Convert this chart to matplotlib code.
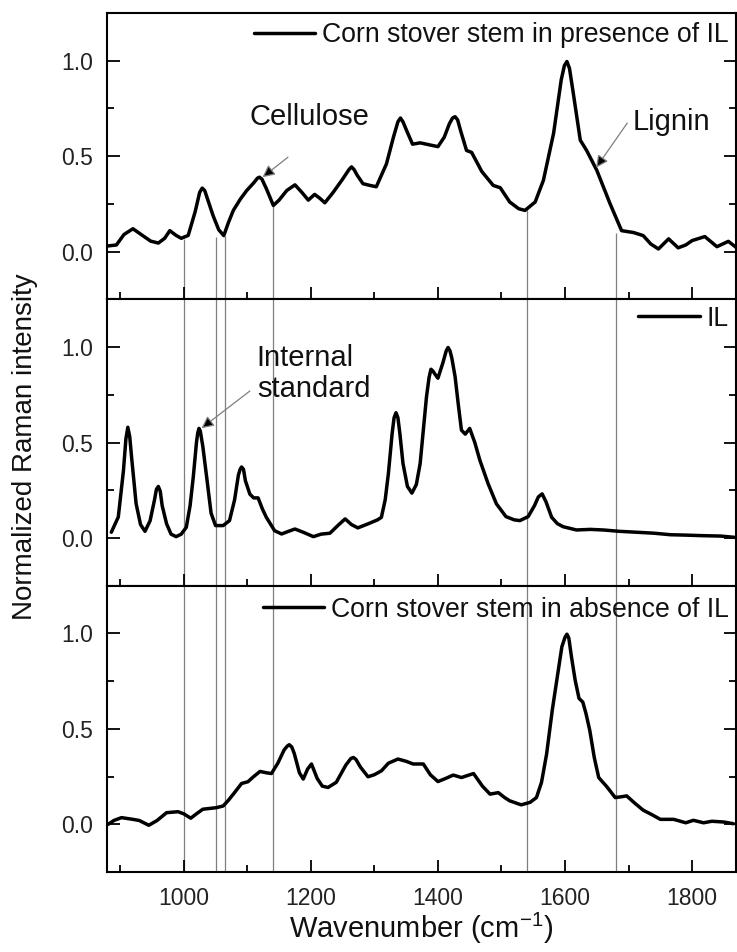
import matplotlib
matplotlib.use("Agg")
import matplotlib.pyplot as plt
from matplotlib.ticker import MultipleLocator, FormatStrFormatter

plt.rcParams['font.family'] = ['Liberation Sans', 'DejaVu Sans']
plt.rcParams['mathtext.fontset'] = 'custom'
plt.rcParams['mathtext.rm'] = 'Liberation Sans'

# ---------------- data ----------------
x_presence = [881, 894, 906, 920, 935, 948, 960, 970, 978, 988, 996, 1007, 1018, 1025, 1029, 1033,
              1038, 1046, 1055, 1063, 1070, 1078, 1089, 1099, 1110, 1116, 1119, 1123, 1130, 1141,
              1150, 1162, 1175, 1186, 1196, 1206, 1214, 1222, 1235, 1250, 1260, 1264, 1268, 1273,
              1282, 1293, 1303, 1319, 1330, 1337, 1341, 1345, 1350, 1360, 1372, 1386, 1400, 1410,
              1418, 1423, 1427, 1431, 1436, 1445, 1453, 1469, 1487, 1498, 1513, 1527, 1537, 1553,
              1566, 1582, 1594, 1599, 1603, 1607, 1613, 1624, 1634, 1650, 1671, 1689, 1708, 1723,
              1735, 1747, 1763, 1778, 1790, 1800, 1820, 1839, 1857, 1869]
y_presence = [0.03, 0.035, 0.09, 0.12, 0.085, 0.055, 0.045, 0.07, 0.11, 0.085, 0.07, 0.085, 0.21,
              0.31, 0.333, 0.32, 0.27, 0.19, 0.115, 0.084, 0.15, 0.216, 0.275, 0.32, 0.36, 0.385,
              0.39, 0.38, 0.33, 0.242, 0.27, 0.32, 0.35, 0.31, 0.27, 0.30, 0.28, 0.256, 0.31, 0.38,
              0.43, 0.444, 0.43, 0.40, 0.356, 0.347, 0.34, 0.46, 0.60, 0.68, 0.70, 0.68, 0.64,
              0.563, 0.57, 0.56, 0.55, 0.60, 0.67, 0.70, 0.707, 0.69, 0.63, 0.53, 0.52, 0.42,
              0.347, 0.335, 0.26, 0.225, 0.216, 0.26, 0.374, 0.62, 0.90, 0.975, 0.996, 0.96, 0.83,
              0.584, 0.53, 0.426, 0.25, 0.11, 0.10, 0.084, 0.04, 0.014, 0.067, 0.02, 0.035, 0.058,
              0.079, 0.026, 0.054, 0.023]

x_il = [886, 897, 905, 909, 912, 915, 918, 925, 932, 939, 947, 954, 957, 960, 963, 966, 973, 980,
        988, 996, 1004, 1010, 1015, 1020, 1022, 1024, 1026, 1030, 1036, 1043, 1050, 1062, 1072,
        1080, 1086, 1089, 1091, 1094, 1097, 1104, 1110, 1117, 1124, 1130, 1143, 1154, 1165, 1175,
        1188, 1204, 1216, 1230, 1244, 1254, 1264, 1274, 1290, 1305, 1311, 1317, 1322, 1328, 1331,
        1334, 1337, 1340, 1345, 1352, 1359, 1366, 1372, 1378, 1382, 1386, 1389, 1392, 1395, 1400,
        1408, 1413, 1416, 1419, 1422, 1427, 1432, 1437, 1443, 1450, 1458, 1466, 1479, 1492, 1507,
        1520, 1529, 1542, 1552, 1558, 1564, 1570, 1579, 1588, 1597, 1618, 1640, 1660, 1685, 1713,
        1740, 1766, 1790, 1818, 1845, 1868]
y_il = [0.03, 0.11, 0.35, 0.52, 0.58, 0.53, 0.42, 0.18, 0.07, 0.035, 0.09, 0.20, 0.255, 0.27,
        0.245, 0.17, 0.074, 0.02, 0.007, 0.02, 0.056, 0.17, 0.32, 0.50, 0.55, 0.574, 0.56, 0.48,
        0.32, 0.13, 0.065, 0.065, 0.091, 0.20, 0.33, 0.362, 0.372, 0.36, 0.30, 0.23, 0.21, 0.21,
        0.15, 0.108, 0.038, 0.021, 0.035, 0.047, 0.03, 0.007, 0.02, 0.025, 0.07, 0.10, 0.07,
        0.053, 0.074, 0.095, 0.108, 0.2, 0.337, 0.55, 0.63, 0.656, 0.63, 0.55, 0.39, 0.27, 0.235,
        0.28, 0.39, 0.60, 0.74, 0.84, 0.884, 0.875, 0.86, 0.837, 0.92, 0.98, 0.998, 0.98, 0.94,
        0.845, 0.70, 0.565, 0.544, 0.574, 0.50, 0.407, 0.284, 0.179, 0.112, 0.095, 0.091, 0.112,
        0.17, 0.215, 0.231, 0.19, 0.108, 0.075, 0.059, 0.042, 0.045, 0.042, 0.035, 0.03, 0.025,
        0.017, 0.015, 0.012, 0.01, 0.003]

x_absence = [881, 890, 902, 912, 920, 930, 945, 958, 973, 991, 1000, 1011, 1020, 1030, 1051, 1062,
             1070, 1078, 1091, 1101, 1110, 1120, 1130, 1138, 1148, 1158, 1163, 1166, 1170, 1174,
             1182, 1188, 1195, 1201, 1210, 1218, 1227, 1240, 1255, 1263, 1267, 1271, 1278, 1290,
             1300, 1311, 1322, 1337, 1350, 1361, 1377, 1388, 1400, 1412, 1424, 1437, 1456, 1470,
             1482, 1495, 1505, 1513, 1531, 1545, 1555, 1563, 1571, 1580, 1587, 1595, 1600, 1603,
             1606, 1610, 1616, 1622, 1628, 1633, 1639, 1646, 1653, 1666, 1679, 1690, 1697, 1710,
             1723, 1737, 1750, 1771, 1790, 1802, 1818, 1831, 1850, 1865]
y_absence = [0.0, 0.02, 0.035, 0.03, 0.026, 0.02, -0.005, 0.02, 0.061, 0.066, 0.055, 0.032, 0.055,
             0.079, 0.087, 0.096, 0.125, 0.158, 0.214, 0.223, 0.25, 0.277, 0.27, 0.266, 0.32, 0.39,
             0.41, 0.417, 0.405, 0.37, 0.27, 0.237, 0.29, 0.316, 0.24, 0.20, 0.193, 0.22, 0.31,
             0.345, 0.35, 0.34, 0.30, 0.249, 0.26, 0.28, 0.32, 0.342, 0.33, 0.316, 0.316, 0.26,
             0.224, 0.24, 0.258, 0.245, 0.266, 0.20, 0.158, 0.166, 0.14, 0.123, 0.102, 0.115, 0.14,
             0.22, 0.368, 0.60, 0.754, 0.93, 0.98, 0.996, 0.975, 0.88, 0.754, 0.66, 0.64, 0.58,
             0.491, 0.35, 0.245, 0.196, 0.14, 0.145, 0.149, 0.11, 0.074, 0.05, 0.026, 0.026, 0.008,
             0.021, 0.008, 0.016, 0.012, 0.003]

marker_lines = [1000, 1050, 1065, 1140, 1540, 1680]
marker_tops_presence = [0.067, 0.075, 0.084, 0.242, 0.216, 0.10]

labels = ["Corn stover stem in presence of IL", "IL", "Corn stover stem in absence of IL"]
xticks = [1000, 1200, 1400, 1600, 1800]
yticks = [0.0, 0.5, 1.0]

# ---------------- figure ----------------
fig, axes = plt.subplots(3, 1, sharex=True, figsize=(7.37, 9.52), dpi=100)
fig.subplots_adjust(left=0.145, right=0.9986, top=0.9863, bottom=0.084, hspace=0.0)

series = [(x_presence, y_presence), (x_il, y_il), (x_absence, y_absence)]
legend_y = [0.923, 0.933, 0.916]
gray = '#7f7f7f'

for i, ax in enumerate(axes):
    xs, ys = series[i]
    if i == 0:
        ax.vlines(marker_lines, -0.25, marker_tops_presence, colors=gray, lw=0.9, zorder=1)
    else:
        for xv in marker_lines:
            ax.axvline(xv, color=gray, lw=0.9, zorder=1)
    ax.plot(xs, ys, color='black', lw=2.5, label=labels[i], zorder=3,
            solid_joinstyle='round', solid_capstyle='round')
    ax.set_ylim(-0.25, 1.25)
    ax.set_xlim(879, 1869)
    ax.yaxis.set_major_locator(plt.FixedLocator(yticks))
    ax.yaxis.set_minor_locator(MultipleLocator(0.25))
    ax.yaxis.set_major_formatter(FormatStrFormatter('%.1f'))
    ax.xaxis.set_major_locator(plt.FixedLocator(xticks))
    ax.xaxis.set_minor_locator(MultipleLocator(100))
    ax.tick_params(which='both', direction='in', top=False, right=True,
                   width=1.3, labelsize=16.5, pad=10, colors='black', labelcolor='#222222')
    ax.tick_params(axis='x', pad=10.5)
    ax.tick_params(which='major', length=9)
    ax.tick_params(which='minor', length=5)
    for sp in ax.spines.values():
        sp.set_linewidth(1.5)
    leg = ax.legend(loc='center right', bbox_to_anchor=(0.988, legend_y[i]), frameon=False,
                    fontsize=19.2, handlelength=2.3, handletextpad=0.25,
                    borderaxespad=0.0, borderpad=0.0)
    for t in leg.get_texts():
        t.set_color('#111111')

arrow_kw = dict(arrowstyle='-|>', color=gray, lw=0.9, mutation_scale=18,
                shrinkA=0, shrinkB=0)

ax0, ax1, ax2 = axes
ax0.text(1197, 0.705, "Cellulose", fontsize=21, ha='center', va='center', color='#111111')
ax0.annotate('', xy=(1124, 0.39), xytext=(1164, 0.495),
             arrowprops=dict(arrow_kw, fc='black', ec=gray))
ax0.text(1767, 0.68, "Lignin", fontsize=21, ha='center', va='center', color='#111111')
ax0.annotate('', xy=(1649, 0.44), xytext=(1698, 0.674),
             arrowprops=dict(arrow_kw, fc='black', ec=gray))
ax1.text(1115, 0.862, "Internal\nstandard", fontsize=21, ha='left', va='center',
         linespacing=1.15, color='#111111')
ax1.annotate('', xy=(1028, 0.575), xytext=(1104, 0.77),
             arrowprops=dict(arrow_kw, fc='black', ec=gray))

fig.text(25 / 737, 1 - 447 / 952, "Normalized Raman intensity", rotation=90,
         ha='center', va='center', fontsize=20, color='#111111')
fig.text(421 / 737, 1 - 938 / 952, "Wavenumber (cm$^{\\mathregular{-1}}$)", ha='center',
         va='baseline', fontsize=21, color='#111111')

fig.savefig("out.png", dpi=100)
